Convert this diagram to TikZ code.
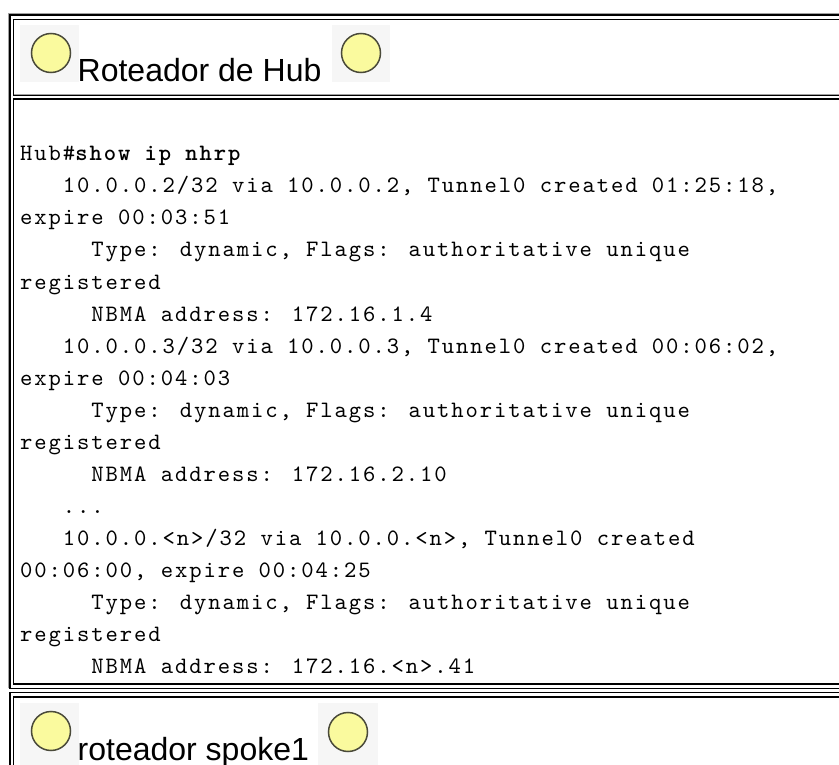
\documentclass[tikz,border=0pt]{standalone}
\usepackage{fontspec}
\setmainfont{Liberation Sans}
\newfontfamily\codefont{lmmono10-regular.otf}[BoldFont=lmmonolt10-bold.otf, LetterSpace=8.14]
\definecolor{lampyellow}{HTML}{FAFA9E}
\definecolor{lampedge}{HTML}{4A4A3A}
\definecolor{lampgray}{HTML}{F6F6F6}
\definecolor{edgegray}{HTML}{A0A0A0}
\newcommand\codesetup{\codefont\fontsize{23.5}{32}\selectfont\fontdimen2\font=14.25pt\fontdimen3\font=0pt\fontdimen4\font=0pt}
\begin{document}
\begin{tikzpicture}[x=1pt,y=-1pt,
  frame/.style={draw=black, line width=1.6pt},
  litedge/.style={draw=edgegray, line width=0.9pt},
  lampbg/.style={fill=lampgray, draw=none},
  lamp/.style={circle, draw=lampedge, line width=1.5pt, fill=lampyellow, minimum size=39pt, inner sep=0pt},
  title/.style={font=\fontsize{32}{38}\selectfont, anchor=base west, inner sep=0pt},
  code/.style={font=\codesetup, anchor=base west, inner sep=0pt}]
\useasboundingbox (0,0) rectangle (839,765);
\clip (0,0) rectangle (839,765);
\fill[white] (0,0) rectangle (839,765);

% table A
\draw[litedge] (8.6,688) -- (8.6,13.6) -- (860,13.6);
\draw[frame] (10,688.5) -- (10,15.2) -- (860,15.2);
\draw[frame] (10,688.5) -- (860,688.5);
% cell 1
\draw[frame] (860,19.5) -- (13.6,19.5) -- (13.6,95.5) -- (860,95.5);
\draw[litedge] (13.6,94.0) -- (860,94.0);
% cell 2
\draw[frame] (860,99.3) -- (13.6,99.3) -- (13.6,684) -- (860,684);
% table B
\draw[frame] (860,692.5) -- (10,692.5) -- (10,800);
\draw[frame] (860,697) -- (13.6,697) -- (13.6,800);

% header
\fill[lampbg] (20,25) rectangle (79,82);
\fill[lampbg] (332,25) rectangle (390,82);
\node[lamp] (hl1) at (51,53) {};
\node[lamp] (hl2) at (361,53) {};
\node[title] (hubtitle) at (77.5,82) {Roteador de Hub};

% code
\node[code] (l1)  at (20,161) {Hub\#{\bfseries show ip nhrp}};
\node[code] (l2)  at (20,193) {\ \ \ 10.0.0.2/32 via 10.0.0.2, Tunnel0 created 01:25:18,};
\node[code] (l3)  at (20,225) {expire 00:03:51};
\node[code] (l4)  at (20,257) {\ \ \ \ \ Type: dynamic, Flags: authoritative unique};
\node[code] (l5)  at (20,289) {registered};
\node[code] (l6)  at (20,321) {\ \ \ \ \ NBMA address: 172.16.1.4};
\node[code] (l7)  at (20,353) {\ \ \ 10.0.0.3/32 via 10.0.0.3, Tunnel0 created 00:06:02,};
\node[code] (l8)  at (20,385) {expire 00:04:03};
\node[code] (l9)  at (20,417) {\ \ \ \ \ Type: dynamic, Flags: authoritative unique};
\node[code] (l10) at (20,449) {registered};
\node[code] (l11) at (20,481) {\ \ \ \ \ NBMA address: 172.16.2.10};
\node[code] (l12) at (20,513) {\ \ \ ...};
\node[code] (l13) at (20,545) {\ \ \ 10.0.0.<n>/32 via 10.0.0.<n>, Tunnel0 created};
\node[code] (l14) at (20,577) {00:06:00, expire 00:04:25};
\node[code] (l15) at (20,609) {\ \ \ \ \ Type: dynamic, Flags: authoritative unique};
\node[code] (l16) at (20,641) {registered};
\node[code] (l17) at (20,673) {\ \ \ \ \ NBMA address: 172.16.<n>.41};

% footer
\fill[lampbg] (20,703) rectangle (79,770);
\fill[lampbg] (318,703) rectangle (378,770);
\node[lamp] (sl1) at (51,731) {};
\node[lamp] (sl2) at (348,732) {};
\node[title] (spoketitle) at (77.5,760) {roteador spoke1};
\end{tikzpicture}
\end{document}
